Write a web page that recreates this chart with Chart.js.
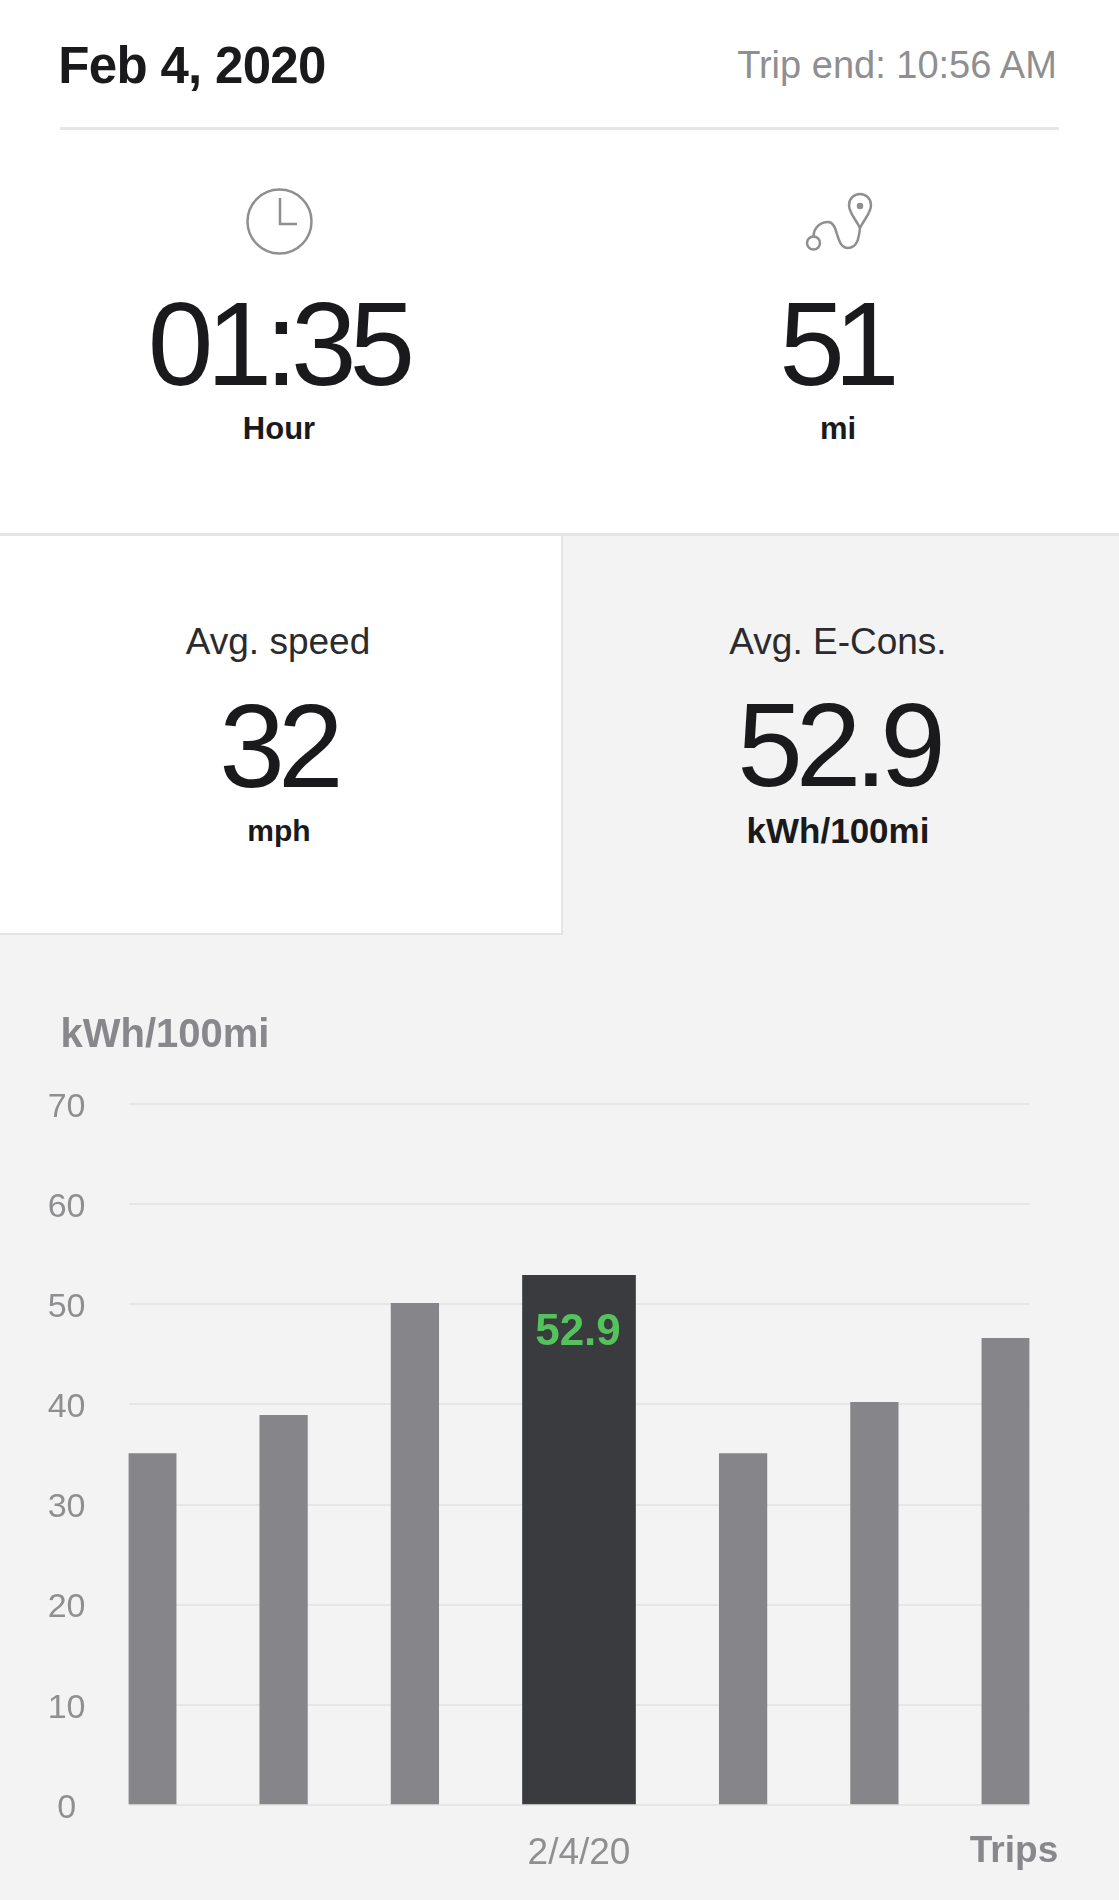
<!DOCTYPE html>
<html>
<head>
<meta charset="utf-8">
<script src="https://cdn.jsdelivr.net/npm/chart.js@4"></script>
<style>
  html, body { margin: 0; padding: 0; }
  body { width: 1119px; height: 1900px; position: relative; overflow: hidden; background: #f3f3f4; color: #1a1a1c; font-family: "Liberation Sans", sans-serif; }
  .panel { position: absolute; background: #fff; }
  .txt { position: absolute; white-space: nowrap; line-height: 1; transform: translate(-50%, -50%); }
  .big { font-size: 118px; letter-spacing: -7px; }
  .unit { font-size: 30px; font-weight: 700; }
  .caption { font-size: 37px; color: #2b2b2d; }
  #chart { position: absolute; left: 0; top: 1000px; }
  svg { position: absolute; left: 0; top: 0; }
</style>
</head>
<body>
<div class="panel" style="left:0;top:0;width:1119px;height:533px;border-bottom:3px solid #e6e6e7"></div>
<div class="panel" style="left:0;top:536px;width:561px;height:397px;border-right:2px solid #e4e4e5;border-bottom:2px solid #e4e4e5"></div>
<div style="position:absolute;left:60px;top:127px;width:999px;height:3px;background:#e6e6e7"></div>

<div class="txt" style="left:192px;top:65px;font-size:51px;font-weight:700;letter-spacing:-0.7px">Feb 4, 2020</div>
<div class="txt" style="left:897px;top:65px;font-size:38px;color:#8f8f92">Trip end: 10:56 AM</div>

<svg width="1119" height="300" fill="none" stroke="#8f8f92" stroke-width="2.5">
  <circle cx="279.5" cy="221.5" r="32"/>
  <path d="M280 198V224H297"/>
  <circle cx="813.5" cy="243" r="6.5"/>
  <path d="M813.5 236C814 227 821 222 828 222C839 222 835 248 848 248C858 248 859 236 860 228"/>
  <path d="M860 228C855 218 849 213 849 205A11 11 0 0 1 871 205C871 213 865 218 860 228Z"/>
  <circle cx="860" cy="206" r="2" fill="#8f8f92"/>
</svg>

<div class="txt big" style="left:278px;top:344px">01:35</div>
<div class="txt unit" style="left:279px;top:428px;font-size:31px">Hour</div>
<div class="txt big" style="left:834px;top:344px;letter-spacing:-11px">51</div>
<div class="txt unit" style="left:838px;top:428px;font-size:31px">mi</div>

<div class="txt caption" style="left:278px;top:641px">Avg. speed</div>
<div class="txt big" style="left:278px;top:746px">32</div>
<div class="txt unit" style="left:279px;top:831px">mph</div>
<div class="txt caption" style="left:838px;top:641px">Avg. E-Cons.</div>
<div class="txt big" style="left:838px;top:745px">52.9</div>
<div class="txt unit" style="left:838px;top:830px;font-size:35px">kWh/100mi</div>

<canvas id="chart" width="1119" height="900"></canvas>

<div class="txt" style="left:165px;top:1033px;font-size:40px;font-weight:700;color:#88888c">kWh/100mi</div>
<div class="txt" style="left:1014px;top:1849px;font-size:37px;font-weight:700;color:#88888c">Trips</div>

<script>
const tripLabels = ['', '', '', '2/4/20', '', '', ''];
const tripValues = [35.1, 38.9, 50.1, 52.9, 35.1, 40.2, 46.6];
// the selected bar is wider, so the trips do not sit evenly along the axis
const tripSlots = [0, 4, 8, 13, 18, 22, 26];
const yTicks = [0, 10, 20, 30, 40, 50, 60, 70];
const selectedTrip = 3;
const selectedLabel = '52.9';

const points = tripSlots.map((slot, i) => ({ x: slot, y: tripValues[i] }));

const selectedValueLabel = {
  id: 'selectedValueLabel',
  afterDatasetsDraw(chart) {
    const { ctx, scales } = chart;
    const x = scales.x.getPixelForValue(tripSlots[selectedTrip]);
    const y = scales.y.getPixelForValue(tripValues[selectedTrip]);
    ctx.save();
    ctx.font = '700 44px "Liberation Sans", sans-serif';
    ctx.fillStyle = '#55c25e';
    ctx.textAlign = 'center';
    ctx.textBaseline = 'middle';
    ctx.fillText(selectedLabel, x - 1, y + 58);
    ctx.restore();
  },
};

new Chart(document.getElementById('chart'), {
  type: 'bar',
  data: {
    datasets: [
      {
        data: points.filter((_, i) => i !== selectedTrip),
        backgroundColor: '#86868a',
        barThickness: 47.6,
        grouped: false,
      },
      {
        data: points.filter((_, i) => i === selectedTrip),
        backgroundColor: '#3a3b3e',
        barThickness: 113,
        grouped: false,
      },
    ],
  },
  options: {
    responsive: false,
    animation: false,
    layout: { padding: { top: 104, right: 89.5, bottom: 0, left: 0 } },
    plugins: { legend: { display: false }, tooltip: { enabled: false } },
    scales: {
      x: {
        type: 'linear',
        offset: false, // with one tick the offset would squash the axis to half its width
        min: -0.726,
        max: 26.726,
        grid: { display: false },
        border: { display: false },
        afterFit(scale) { scale.height = 95; },
        afterBuildTicks(scale) { scale.ticks = [{ value: tripSlots[selectedTrip] }]; },
        ticks: {
          padding: 19,
          maxRotation: 0,
          autoSkip: false,
          color: '#8f8f92',
          font: { family: '"Liberation Sans", sans-serif', size: 37 },
          callback: (value) => tripLabels[tripSlots.indexOf(value)],
        },
      },
      y: {
        min: 0,
        max: 70,
        afterFit(scale) { scale.width = 128.5; },
        afterBuildTicks(scale) { scale.ticks = yTicks.map((value) => ({ value })); },
        grid: { color: '#e6e6e7', lineWidth: 2, drawTicks: false },
        border: { display: false },
        ticks: {
          padding: 43,
          crossAlign: 'center',
          color: '#8f8f92',
          font: { family: '"Liberation Sans", sans-serif', size: 34, lineHeight: 0.2 },
          // blank first line nudges the number down a few px to sit on its gridline
          callback: (value) => ['', String(value)],
        },
      },
    },
  },
  plugins: [selectedValueLabel],
});
</script>
</body>
</html>
